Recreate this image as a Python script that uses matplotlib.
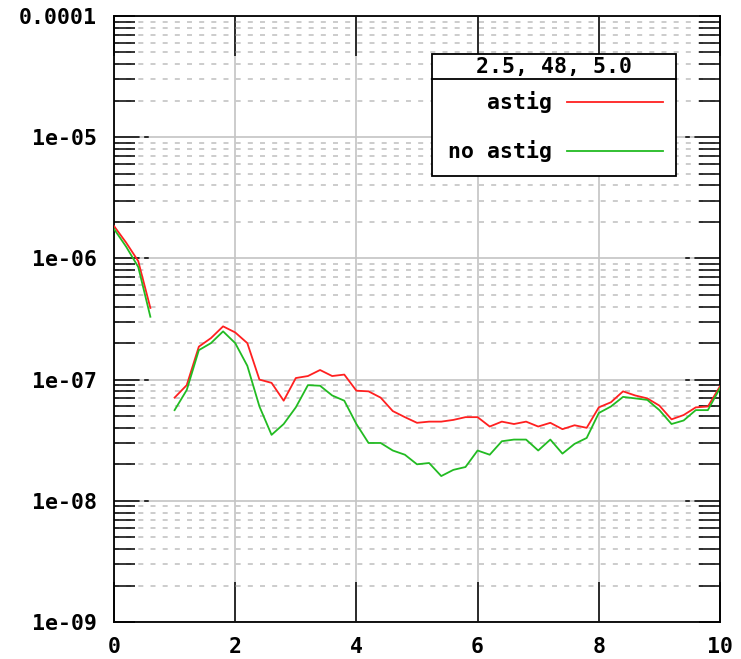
import numpy as np
import matplotlib
matplotlib.use("Agg")
import matplotlib.pyplot as plt
from matplotlib.patches import Rectangle
from matplotlib.ticker import FixedLocator, LogLocator, NullFormatter

# ---------------- data ----------------
x_vals = [0.0, 0.2, 0.4, 0.6, 0.8, 1.0, 1.2, 1.4, 1.6, 1.8,
          2.0, 2.2, 2.4, 2.6, 2.8, 3.0, 3.2, 3.4, 3.6, 3.8,
          4.0, 4.2, 4.4, 4.6, 4.8, 5.0, 5.2, 5.4, 5.6, 5.8,
          6.0, 6.2, 6.4, 6.6, 6.8, 7.0, 7.2, 7.4, 7.6, 7.8,
          8.0, 8.2, 8.4, 8.6, 8.8, 9.0, 9.2, 9.4, 9.6, 9.8, 10.0]

astig = [1.85e-6, 1.35e-6, 9.5e-7, 3.9e-7, np.nan, 7.1e-8, 9.0e-8, 1.87e-7, 2.2e-7, 2.75e-7,
         2.45e-7, 2.0e-7, 1.0e-7, 9.4e-8, 6.7e-8, 1.03e-7, 1.07e-7, 1.2e-7, 1.07e-7, 1.1e-7,
         8.1e-8, 8.0e-8, 7.1e-8, 5.5e-8, 4.9e-8, 4.4e-8, 4.5e-8, 4.5e-8, 4.65e-8, 4.9e-8,
         4.9e-8, 4.1e-8, 4.5e-8, 4.3e-8, 4.5e-8, 4.1e-8, 4.4e-8, 3.9e-8, 4.2e-8, 4.0e-8,
         5.9e-8, 6.5e-8, 8.0e-8, 7.4e-8, 7.0e-8, 6.1e-8, 4.7e-8, 5.1e-8, 5.9e-8, 6.0e-8, 8.8e-8]

no_astig = [1.75e-6, 1.25e-6, 8.5e-7, 3.3e-7, np.nan, 5.6e-8, 8.2e-8, 1.75e-7, 2.0e-7, 2.5e-7,
            2.0e-7, 1.3e-7, 6.0e-8, 3.5e-8, 4.3e-8, 5.9e-8, 9.0e-8, 8.9e-8, 7.4e-8, 6.7e-8,
            4.3e-8, 3.0e-8, 3.0e-8, 2.6e-8, 2.4e-8, 2.0e-8, 2.05e-8, 1.6e-8, 1.8e-8, 1.9e-8,
            2.6e-8, 2.4e-8, 3.1e-8, 3.2e-8, 3.2e-8, 2.6e-8, 3.2e-8, 2.45e-8, 2.95e-8, 3.3e-8,
            5.3e-8, 6.0e-8, 7.2e-8, 7.0e-8, 6.8e-8, 5.6e-8, 4.3e-8, 4.6e-8, 5.6e-8, 5.6e-8, 8.5e-8]

series_labels = ["astig", "no astig"]
legend_title = "2.5, 48, 5.0"

x_ticks = [0, 2, 4, 6, 8, 10]
x_ticklabels = ["0", "2", "4", "6", "8", "10"]
y_ticks = [1e-9, 1e-8, 1e-7, 1e-6, 1e-5, 1e-4]
y_ticklabels = ["1e-09", "1e-08", "1e-07", "1e-06", "1e-05", "0.0001"]

# ---------------- style ----------------
RED = "#ff2020"
GREEN = "#22bb22"
GRID = "#c4c4c4"
FONT = dict(family="DejaVu Sans Mono", weight="bold", size=15.5)

W, H = 741, 659
fig = plt.figure(figsize=(W / 100, H / 100), dpi=100)
L, R, T, B = 114, 720, 16, 622
ax = fig.add_axes([L / W, (H - B) / H, (R - L) / W, (B - T) / H])

ax.set_yscale("log")
ax.set_xlim(0, 10)
ax.set_ylim(1e-9, 1e-4)

ax.plot(x_vals, astig, color=RED, lw=1.3, zorder=3)
ax.plot(x_vals, no_astig, color=GREEN, lw=1.3, zorder=3)

# ticks
ax.xaxis.set_major_locator(FixedLocator(x_ticks))
ax.set_xticklabels(x_ticklabels, **FONT)
ax.yaxis.set_major_locator(FixedLocator(y_ticks))
ax.set_yticklabels(y_ticklabels, **FONT)
ax.yaxis.set_minor_locator(LogLocator(base=10, subs=np.arange(2, 10), numticks=20))
ax.yaxis.set_minor_formatter(NullFormatter())
ax.xaxis.set_minor_locator(FixedLocator([]))

px2pt = 72 / 100
ax.tick_params(axis="x", which="major", direction="in", top=True, bottom=True,
               length=40 * px2pt, width=1.1, pad=15 * px2pt, color="black")
ax.tick_params(axis="y", which="major", direction="in", left=True, right=True,
               length=21 * px2pt, width=1.1, pad=17 * px2pt, color="black")
ax.tick_params(axis="y", which="minor", direction="in", left=True, right=True,
               length=21 * px2pt, width=1.1, color="black")

# grid
ax.grid(True, which="major", axis="x", color=GRID, lw=1.2, ls="-")
ax.grid(True, which="major", axis="y", color=GRID, lw=1.2, ls="-")
ax.grid(True, which="minor", axis="y", color=GRID, lw=1.2, ls=(0, (3, 4.3)))
ax.set_axisbelow(True)

# dashed extension of major y ticks (gnuplot style)
t1 = 21 / (R - L)
t2 = 38 / (R - L)
ytr = ax.get_yaxis_transform()
for yt in y_ticks[1:-1]:
    ax.plot([t1, t2], [yt, yt], transform=ytr, color="black", lw=1.1,
            ls=(0, (3, 3)), zorder=2.5, clip_on=False)
    ax.plot([1 - t1, 1 - t2], [yt, yt], transform=ytr, color="black", lw=1.1,
            ls=(0, (3, 3)), zorder=2.5, clip_on=False)

for s in ax.spines.values():
    s.set_linewidth(1.3)
    s.set_color("black")

# legend box (gnuplot style with title row)
def fx(p):
    return (p - L) / (R - L)

def fy(p):
    return 1 - (p - T) / (B - T)

x0, x1 = fx(432), fx(676)
y0, y1 = fy(176), fy(54)
ax.add_patch(Rectangle((x0, y0), x1 - x0, y1 - y0, transform=ax.transAxes,
                       facecolor="white", edgecolor="black", lw=1.3, zorder=5))
ax.plot([x0, x1], [fy(79), fy(79)], transform=ax.transAxes, color="black",
        lw=1.3, zorder=6)
ax.text((x0 + x1) / 2, fy(67), legend_title, transform=ax.transAxes,
        ha="center", va="center", zorder=7, **FONT)
for lab, col, ypx in [(series_labels[0], RED, 102), (series_labels[1], GREEN, 151)]:
    ax.text(fx(552), fy(ypx), lab, transform=ax.transAxes, ha="right",
            va="center", zorder=7, **FONT)
    ax.plot([fx(567), fx(663)], [fy(ypx), fy(ypx)], transform=ax.transAxes,
            color=col, lw=1.3, zorder=7)

fig.savefig("out.png", dpi=100)
